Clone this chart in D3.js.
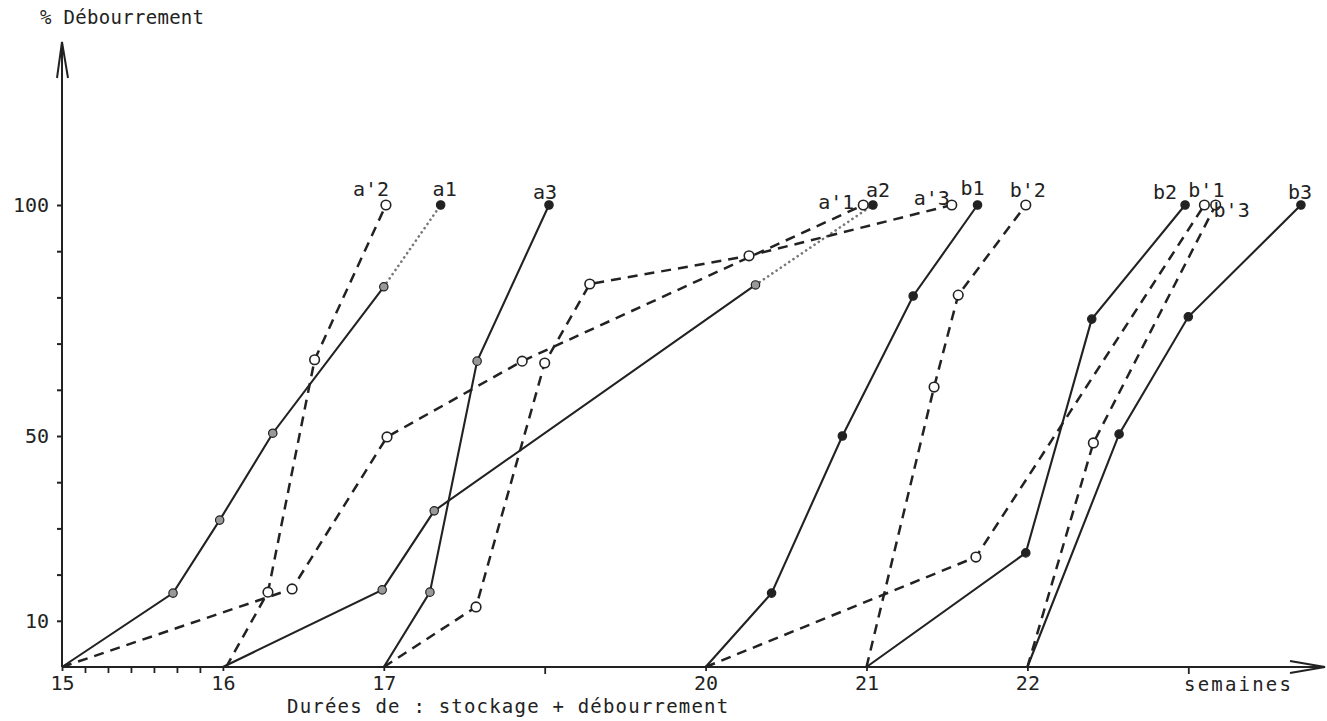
<!DOCTYPE html>
<html>
<head>
<meta charset="utf-8">
<script src="https://cdn.jsdelivr.net/npm/d3@7"></script>
<style>
  body { margin: 0; background: #fff; }
  text { font-family: "DejaVu Sans Mono", "Liberation Mono", monospace; fill: #222; }
</style>
</head>
<body>
<svg id="chart" width="1327" height="721"></svg>
<script>
// weeks (stockage + débourrement) vs % débourrement
const a1 = [[15, 0], [15.69, 16], [15.98, 31.8], [16.31, 50.6], [17, 82.3], [17.53, 100]]
const a2 = [[16, 0], [16.99, 16.7], [17.47, 33.8], [20.31, 82.7], [21.04, 100]]
const a3 = [[17, 0], [17.43, 16.2], [17.87, 66.2], [18.54, 100]]
const ap1 = [[15, 0], [16.43, 16.9], [17.03, 49.8], [18.29, 66.2], [20.98, 100]]
const ap2 = [[16.02, 0], [16.28, 16.2], [16.57, 66.5], [17.02, 100]]
const ap3 = [[17, 0], [17.86, 13], [18.5, 65.8], [18.92, 82.9], [20.27, 89], [21.53, 100]]
const b1 = [[20, 0], [20.41, 16], [20.85, 50], [21.29, 80.3], [21.69, 100]]
const b2 = [[21, 0], [21.99, 24.7], [22.4, 75.3], [22.98, 100]]
const b3 = [[22, 0], [22.57, 50.4], [23, 75.8], [23.7, 100]]
const bp1 = [[20, 0], [21.68, 23.8], [23.1, 100]]
const bp2 = [[21, 0], [21.42, 60.6], [21.57, 80.5], [21.99, 100]]
const bp3 = [[22, 0], [22.41, 48.5], [23.17, 100]]

const seriesNames = ["a1", "a2", "a3", "a'1", "a'2", "a'3", "b1", "b2", "b3", "b'1", "b'2", "b'3"]
const seriesData = [a1, a2, a3, ap1, ap2, ap3, b1, b2, b3, bp1, bp2, bp3]

// axis: weeks 18-19 squeezed into two units between 17 and 20
const xBreaks = [15, 16, 17, 20, 21, 22, 23]
const xBreakSlots = [0, 1, 2, 4, 5, 6, 7]
const xLabelWeeks = [15, 16, 17, 20, 21, 22]
const xPlainTicks = [18.5, 23]
const yTicks = [10, 20, 30, 40, 50, 60, 70, 80, 90, 100]
const yLabelTicks = [10, 50, 100]

// ---- layout / style (kept apart from the values) ----
const left = 62, bottom = 667, unit = 160.9
const dashed = new Set(["a'1", "a'2", "a'3", "b'1", "b'2", "b'3"])
const dottedEnd = new Set(["a1", "a2"])
const labelOffset = {
    "a1": [4, -9], "a2": [5, -8], "a3": [-4, -6],
    "a'1": [-27, 4], "a'2": [-15, -9], "a'3": [-20, 0],
    "b1": [-5, -10], "b2": [-20, -6], "b3": [-1, -6],
    "b'1": [2, -8], "b'2": [2, -8], "b'3": [16, 12]
}

const svg = d3.select('#chart')

const x = d3.scaleLinear()
    .domain(xBreaks)
    .range(xBreakSlots.map(s => left + s * unit))
const y = d3.scaleLinear().domain([0, 100]).range([bottom, 205])

const ink = '#222'

// y axis
const yAxis = svg.append('g')
    .attr('transform', `translate(${left},0)`)
    .call(d3.axisLeft(y).tickValues(yTicks).tickSize(5).tickPadding(8)
        .tickFormat(d => yLabelTicks.includes(d) ? d : ''))
yAxis.select('.domain').remove()
yAxis.selectAll('line').attr('stroke', ink).attr('stroke-width', 2)
yAxis.selectAll('text').style('font-size', '20px').attr('fill', ink)

svg.append('line')
    .attr('x1', left).attr('y1', bottom).attr('x2', left).attr('y2', 42)
    .attr('stroke', ink).attr('stroke-width', 2)
svg.append('path')
    .attr('d', `M${left - 5},78 L${left},42 L${left + 6},78`)
    .attr('fill', 'none').attr('stroke', ink).attr('stroke-width', 2)

// x axis
const dayTicks = d3.range(1, 7).map(k => 15 + k / 7)
const xAxis = svg.append('g')
    .attr('transform', `translate(0,${bottom})`)
    .call(d3.axisBottom(x).tickValues(xLabelWeeks.concat(xPlainTicks, dayTicks))
        .tickSize(7).tickPadding(6)
        .tickFormat(d => xLabelWeeks.includes(d) ? d : ''))
xAxis.select('.domain').remove()
xAxis.selectAll('line').attr('stroke', ink).attr('stroke-width', 1.8)
xAxis.selectAll('.tick').filter(d => dayTicks.includes(d)).select('line').attr('y2', 6)
xAxis.selectAll('.tick').filter(d => xLabelWeeks.includes(d)).select('line').attr('y2', 4)
xAxis.selectAll('text').style('font-size', '20px').attr('fill', ink).attr('dy', '0.5em')

svg.append('line')
    .attr('x1', left).attr('y1', bottom).attr('x2', 1325).attr('y2', bottom)
    .attr('stroke', ink).attr('stroke-width', 2)
svg.append('path')
    .attr('d', `M1290,${bottom - 6} L1325,${bottom} L1290,${bottom + 6}`)
    .attr('fill', 'none').attr('stroke', ink).attr('stroke-width', 2)

// titles
svg.append('text').attr('x', 40).attr('y', 24)
    .style('font-size', '19px').style('letter-spacing', '0.3px').text('% Débourrement')
svg.append('text').attr('x', 287).attr('y', 713)
    .style('font-size', '19px').style('letter-spacing', '1.2px')
    .text('Durées de : stockage + débourrement')
svg.append('text').attr('x', 1184).attr('y', 691)
    .style('font-size', '19px').style('letter-spacing', '2.2px').text('semaines')

// curves
const line = d3.line().x(d => x(d[0])).y(d => y(d[1]))

seriesNames.forEach((name, i) => {
    const pts = seriesData[i]
    const isDashed = dashed.has(name)
    const main = dottedEnd.has(name) ? pts.slice(0, -1) : pts
    const g = svg.append('g').attr('class', 'series')

    g.append('path')
        .datum(main)
        .attr('d', line)
        .attr('fill', 'none')
        .attr('stroke', ink)
        .attr('stroke-width', isDashed ? 2.5 : 2.1)
        .attr('stroke-dasharray', isDashed ? '10,7' : null)

    if (dottedEnd.has(name)) {
        g.append('path')
            .datum(pts.slice(-2))
            .attr('d', line)
            .attr('fill', 'none')
            .attr('stroke', '#777')
            .attr('stroke-width', 2.6)
            .attr('stroke-linecap', 'round')
            .attr('stroke-dasharray', '0.1,5')
    }

    const marks = pts.filter(d => d[1] > 0)
    g.selectAll('circle')
        .data(marks)
        .enter()
        .append('circle')
        .attr('cx', d => x(d[0]))
        .attr('cy', d => y(d[1]))
        .attr('r', isDashed ? 4.8 : 4.2)
        .attr('fill', (d, j) => isDashed ? '#fff' : (j === marks.length - 1 || name[0] === 'b' ? '#222' : '#999'))
        .attr('stroke', ink)
        .attr('stroke-width', isDashed ? 1.6 : 1.2)

    const last = pts[pts.length - 1]
    const off = labelOffset[name]
    g.append('text')
        .attr('x', x(last[0]) + off[0])
        .attr('y', y(last[1]) + off[1])
        .attr('text-anchor', 'middle')
        .style('font-size', '20px')
        .text(name)
})
</script>
</body>
</html>
